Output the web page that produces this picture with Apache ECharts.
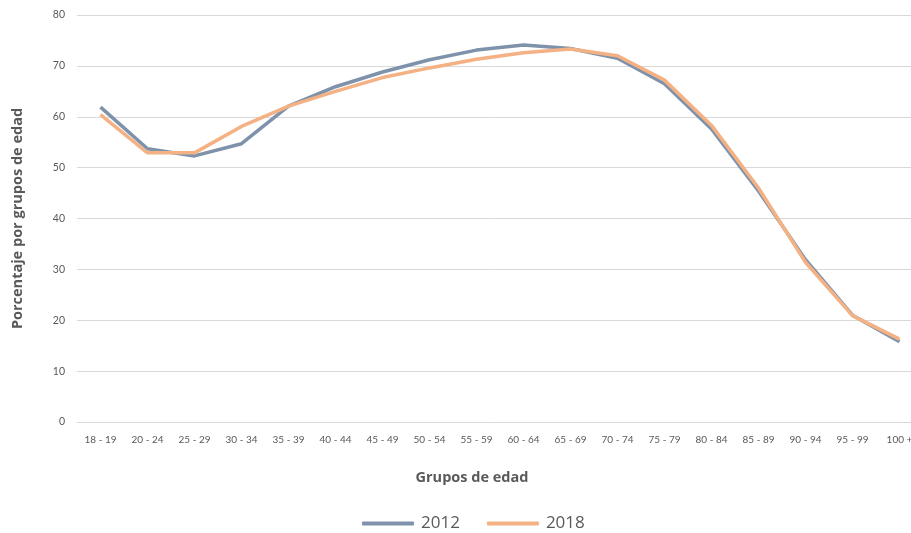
<!DOCTYPE html>
<html><head><meta charset="utf-8">
<script src="https://cdn.jsdelivr.net/npm/echarts@6/dist/echarts.min.js"></script>
<style>html,body{margin:0;padding:0;background:#fff}#c{width:911px;height:533px}</style>
</head><body><div id="c"></div>
<script>
const categories = ['18 - 19','20 - 24','25 - 29','30 - 34','35 - 39','40 - 44','45 - 49','50 - 54','55 - 59','60 - 64','65 - 69','70 - 74','75 - 79','80 - 84','85 - 89','90 - 94','95 - 99','100 +'];
const values2012 = [61.9, 53.7, 52.3, 54.7, 62.1, 65.9, 68.8, 71.2, 73.1, 74.1, 73.4, 71.5, 66.5, 57.6, 45.4, 31.9, 21.0, 15.8];
const values2018 = [60.4, 52.9, 52.9, 58.1, 62.1, 65.0, 67.7, 69.6, 71.3, 72.6, 73.3, 72.0, 67.2, 58.3, 46.0, 31.4, 20.9, 16.3];
const yTicks = {min: 0, max: 80, interval: 10};

const chart = echarts.init(document.getElementById('c'));
const font = '"Open Sans", "Noto Sans", sans-serif';
const labelFont = 'Lato, "Open Sans", sans-serif';
chart.setOption({
  animation: false,
  textStyle: {fontFamily: font},
  grid: {left: 77, top: 15, width: 846, height: 407, containLabel: false, outerBoundsMode: 'none'},
  legend: {
    left: 357, top: 510,
    itemWidth: 52, itemHeight: 4, itemGap: 27,
    icon: 'roundRect',
    textStyle: {fontSize: 17, color: '#595959', fontFamily: font, padding: [0,0,0,2]},
    data: ['2012','2018']
  },
  xAxis: {
    type: 'category', data: categories, boundaryGap: true,
    axisLine: {lineStyle: {color: '#d9d9d9', width: 1}},
    axisTick: {show: false},
    axisLabel: {color: '#595959', fontSize: 10, margin: 13, interval: 0, fontFamily: labelFont},
    name: 'Grupos de edad', nameLocation: 'middle', nameGap: 48,
    nameTextStyle: {fontWeight: 'bold', fontSize: 14.5, color: '#595959', padding: [0, 56, 0, 0]}
  },
  yAxis: {
    type: 'value', min: yTicks.min, max: yTicks.max, interval: yTicks.interval,
    axisLine: {show: false}, axisTick: {show: false},
    splitLine: {lineStyle: {color: '#d9d9d9', width: 1}},
    axisLabel: {color: '#595959', fontSize: 10.5, margin: 12, fontFamily: labelFont},
    name: 'Porcentaje por grupos de edad', nameLocation: 'middle', nameGap: 52,
    nameTextStyle: {fontWeight: 'bold', fontSize: 14.5, color: '#595959'}
  },
  series: [
    {name: '2012', type: 'line', data: values2012, showSymbol: false, symbol: 'none',
     lineStyle: {color: '#7f92ab', width: 3.5}, itemStyle: {color: '#7f92ab'}},
    {name: '2018', type: 'line', data: values2018, showSymbol: false, symbol: 'none',
     lineStyle: {color: '#f4b183', width: 3.5}, itemStyle: {color: '#f4b183'}}
  ]
});
</script></body></html>
